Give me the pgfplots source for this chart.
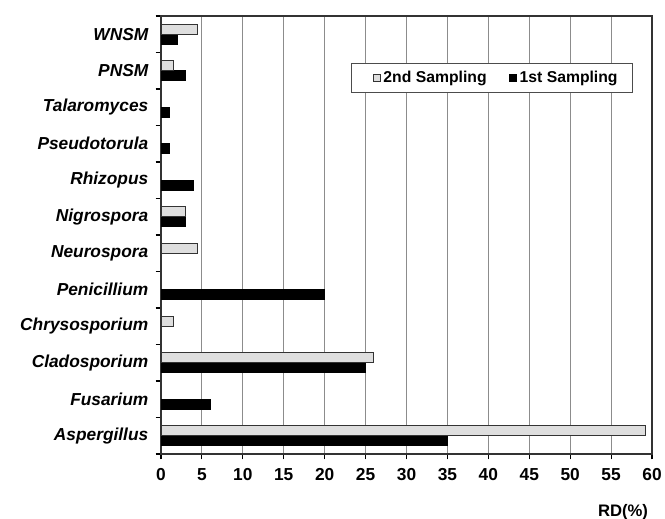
\documentclass[border=0pt]{standalone}
\usepackage{pgfplots}
\pgfplotsset{compat=1.18}
\usepackage{fontspec}
\setmainfont{Liberation Sans}
\definecolor{lightbar}{RGB}{222,222,222}
\definecolor{gridc}{RGB}{140,140,140}
\begin{document}
\begin{tikzpicture}
\begin{axis}[
  scale only axis, width=368.25pt, height=328.5pt,
  xbar, bar width=7.5pt,
  xmin=0, xmax=60, xtick={0,5,...,60},
  ymin=-0.5, ymax=11.5,
  ytick={-0.5,0.5,...,11.5},
  y tick label as interval,
  yticklabels={Aspergillus,Fusarium,Cladosporium,Chrysosporium,Penicillium,Neurospora,Nigrospora,Rhizopus,Pseudotorula,Talaromyces,PNSM,WNSM},
  yticklabel style={font=\fontsize{13}{15}\selectfont\bfseries\itshape, xshift=-2pt},
  xticklabel style={font=\fontsize{13}{15}\selectfont\bfseries, yshift=-3.5pt},
  /pgf/number format/assume math mode=true,
  tick align=outside, xtick pos=bottom, ytick pos=left,
  major tick length=4pt,
  tick style={black, line width=0.8pt},
  xmajorgrids, grid style={gridc, line width=0.75pt},
  axis line style={black!80, line width=1.1pt},
  xlabel={RD(\%)},
  xlabel style={at={(axis description cs:0.941,0)}, anchor=north, yshift=-34.5pt, font=\fontsize{12.5}{14}\selectfont\bfseries},
  legend columns=2, reverse legend,
  legend style={at={(axis description cs:0.674,0.858)}, anchor=center, draw=black!70, line width=0.8pt, fill=white,
    font=\fontsize{11.8}{13}\selectfont\bfseries, inner xsep=9pt, inner ysep=4pt,
    /tikz/every even column/.append style={column sep=8pt}},
  legend image code/.code={\path (-7pt,0); \draw[#1, line width=0.6pt] (0pt,-2.6pt) rectangle (5.2pt,2.6pt);},
]
\addplot[fill=black, draw=black, line width=0.6pt, bar shift=-3.75pt] coordinates {
  (35,0) (6,1) (25,2) (20,4) (3,6) (4,7) (1,8) (1,9) (3,10) (2,11)
};
\addlegendentry{1st Sampling}
\addplot[fill=lightbar, draw=black!80, line width=0.8pt, bar shift=3.75pt] coordinates {
  (59.2,0) (26,2) (1.5,3) (4.5,5) (3,6) (1.5,10) (4.5,11)
};
\addlegendentry{2nd Sampling}
\end{axis}
\pgfresetboundingbox
\path ([shift={(-120.75pt,-48.75pt)}]current axis.south west) rectangle ([shift={(9.75pt,12pt)}]current axis.north east);
\end{tikzpicture}
\end{document}
